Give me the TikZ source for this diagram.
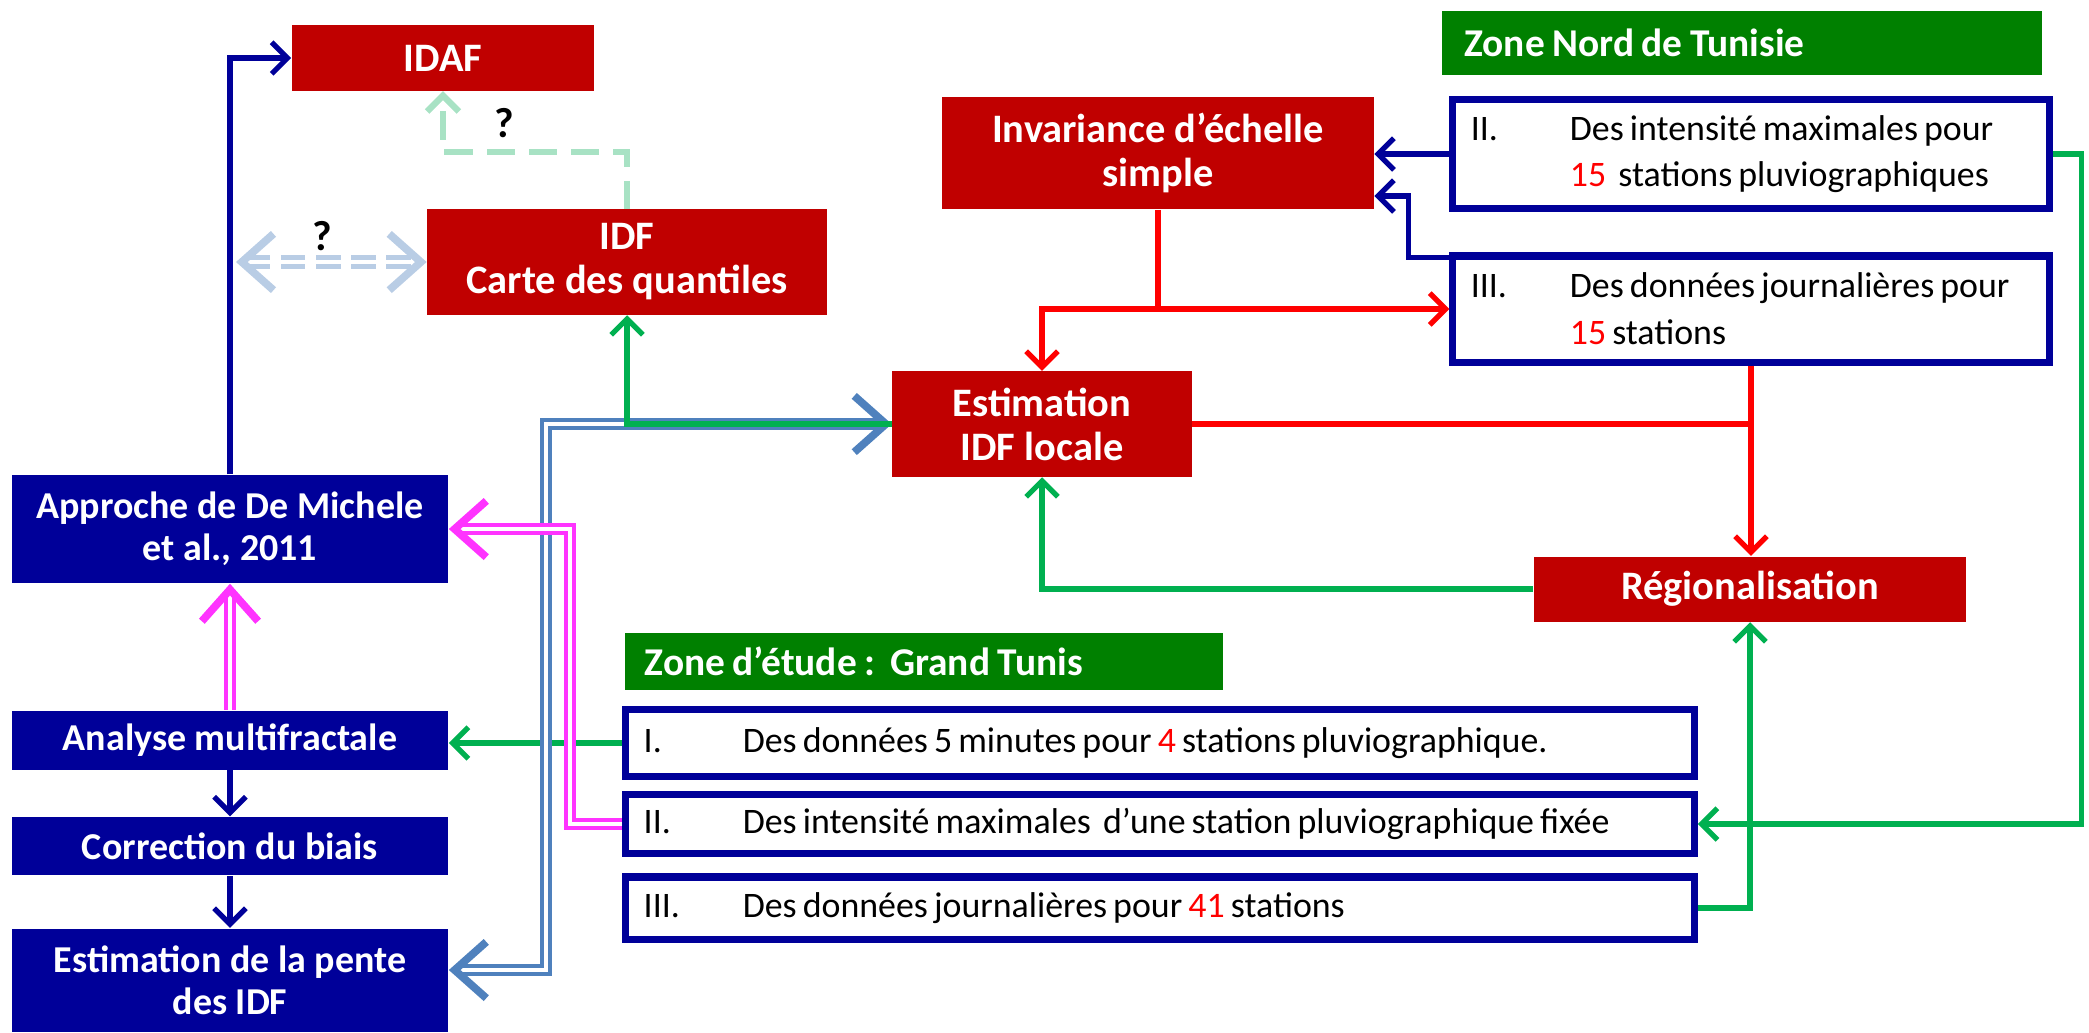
\documentclass[tikz,border=0pt]{standalone}
\usepackage{fontspec}
\setmainfont{Carlito}
\usetikzlibrary{arrows.meta}
\definecolor{boxred}{RGB}{192,0,0}
\definecolor{boxnavy}{RGB}{0,0,153}
\definecolor{zonegreen}{RGB}{0,128,0}
\definecolor{lnred}{RGB}{255,0,0}
\definecolor{lngreen}{RGB}{0,176,80}
\definecolor{lnmagenta}{RGB}{255,51,255}
\definecolor{lnsteel}{RGB}{79,129,189}
\definecolor{lnpale}{RGB}{185,205,229}
\definecolor{lnmint}{RGB}{168,226,196}
\tikzstyle{redbox} = [rectangle, fill=boxred, text=white, font=\fontsize{11.5}{12.5}\selectfont\bfseries, align=center, inner sep=0pt]
\tikzstyle{navybox} = [rectangle, fill=boxnavy, text=white, font=\fontsize{10.8}{12}\selectfont\bfseries, align=center, inner sep=0pt, minimum width=4.36cm]
\tikzstyle{zone} = [rectangle, fill=zonegreen, text=white, font=\fontsize{11.2}{12}\selectfont\bfseries, execute at begin node={\spaceskip=0.19em\relax}, align=left, inner sep=0pt]
\tikzstyle{data} = [rectangle, draw=boxnavy, line width=2pt, fill=white, font=\fontsize{10.2}{13.3}\selectfont, execute at begin node={\spaceskip=0.17em plus 0.05em\relax}, align=left, inner sep=0pt]
\tikzstyle{arrow} = [-{Straight Barb[length=4.5pt,width=9pt]}, line width=1.5pt]
\newcommand{\num}[1]{{\color{lnred}#1}}
\newcommand{\rom}[1]{\hspace*{0.18cm}\makebox[0.99cm][l]{#1}}

\begin{document}
\begin{tikzpicture}[x=0.01cm, y=-0.01cm, bigtip/.style={-{Straight Barb[length=9pt,width=16pt,line width=2.2pt]}}, twotip/.style={{Straight Barb[length=9pt,width=16pt,line width=2.2pt]}-{Straight Barb[length=9pt,width=16pt,line width=2.2pt]}}]
        \useasboundingbox (0,0) rectangle (2089,1032);

        \node[redbox, minimum width=3.02cm, minimum height=0.65cm] (idaf) at (443,58) {IDAF};
        \node[redbox, minimum width=3.99cm, minimum height=1.05cm] (idf) at (627,262) {IDF\\Carte des quantiles};
        \node[redbox, minimum width=4.31cm, minimum height=1.12cm] (invar) at (1158,153) {Invariance d’échelle\\simple};
        \node[redbox, minimum width=2.99cm, minimum height=1.05cm] (estim) at (1042,424) {Estimation\\IDF locale};
        \node[redbox, minimum width=4.32cm, minimum height=0.65cm] (region) at (1750,589) {Régionalisation};

        \node[navybox, minimum height=1.08cm] (approche) at (230,529) {Approche de De Michele\\et al., 2011};
        \node[navybox, minimum height=0.59cm] (analyse) at (230,740) {Analyse multifractale};
        \node[navybox, minimum height=0.58cm] (correction) at (230,846) {Correction du biais};
        \node[navybox, minimum height=1.03cm] (pente) at (230,980) {Estimation de la pente\\des IDF};

        \node[zone, text width=5.99cm, minimum height=0.64cm] (nordzone) at (1742,43) {\hspace*{0.22cm}Zone Nord de Tunisie};
        \node[zone, text width=5.98cm, minimum height=0.57cm] (gtzone) at (924,661) {\hspace*{0.2cm}Zone d’étude :\ \ Grand Tunis};

        \node[data, text width=5.96cm, minimum height=1.09cm] (nord2) at (1751,154) {\rom{II.}Des intensité maximales pour\\\hspace*{1.17cm}\num{15}\ \ stations pluviographiques};
        \node[data, text width=5.96cm, minimum height=1.06cm] (nord3) at (1751,309) {\rom{III.}Des données journalières pour\\\hspace*{1.17cm}\num{15}\,stations};
        \node[data, text width=10.68cm, minimum height=0.67cm] (gt1) at (1160,743) {\rom{I.}Des données 5 minutes pour \num{4} stations pluviographique.};
        \node[data, text width=10.68cm, minimum height=0.59cm] (gt2) at (1160,824) {\rom{II.}Des intensité maximales\ \ d’une station pluviographique fixée};
        \node[data, text width=10.68cm, minimum height=0.62cm] (gt3) at (1160,908) {\rom{III.}Des données journalières pour \num{41} stations};

        \node[font=\bfseries\large] (q1) at (504,123) {?};
        \node[font=\bfseries\large] (q2) at (322,236) {?};

        \draw[arrow, boxnavy] (approche.north) |- (idaf.west);
        \draw[arrow, lnmint, dash pattern=on 8pt off 4pt, line width=1.8pt] (idf.north) |- ([yshift=-0.61cm]idaf.south) -- (idaf.south);
        \draw[twotip, lnpale, double=white, double distance=1.3pt, line width=1.4pt, dash pattern=on 7pt off 3pt] ([xshift=0.06cm]approche.north |- idf.west) -- (idf.west);

        \draw[arrow, boxnavy] (analyse.south) -- (correction.north);
        \draw[arrow, boxnavy] (correction.south) -- (pente.north);
        \draw[arrow, boxnavy] (nord2.west) -- (nord2.west -| invar.east);
        \draw[arrow, boxnavy] ([yshift=-0.05cm]nord3.north west) -- ++(-41,0) |- ([yshift=-0.43cm]invar.east);

        \draw[arrow, lnred] (invar.south) |- (nord3.west);
        \draw[arrow, lnred] (invar.south |- nord3.west) -| (estim.north);
        \draw[arrow, lnred] (nord3.south) -- (nord3.south |- region.north);
        \draw[lnred, line width=1.5pt] (estim.east) -- (estim.east -| nord3.south);

        \draw[arrow, lngreen] (region.west) -| (estim.south);
        \draw[arrow, lngreen] (nord2.east) -- ++(29,0) |- (gt2.east);
        \draw[arrow, lngreen] (gt3.east) -| (region.south);
        \draw[arrow, lngreen] (gt1.west) -- (gt1.west -| analyse.east);

        \draw[twotip, lnsteel, double=white, double distance=1.3pt, line width=1.1pt] ([yshift=0.1cm]pente.east) -- ++(97,0) |- (estim.west);
        \draw[arrow, lngreen] (estim.west) -| (idf.south);

        \draw[bigtip, lnmagenta, double=white, double distance=1.3pt, line width=1.1pt] (gt2.west) -- ++(-52,0) |- (approche.east);
        \draw[bigtip, lnmagenta, double=white, double distance=1.3pt, line width=1.1pt] (analyse.north) -- (approche.south);
        \end{tikzpicture}
\end{document}
